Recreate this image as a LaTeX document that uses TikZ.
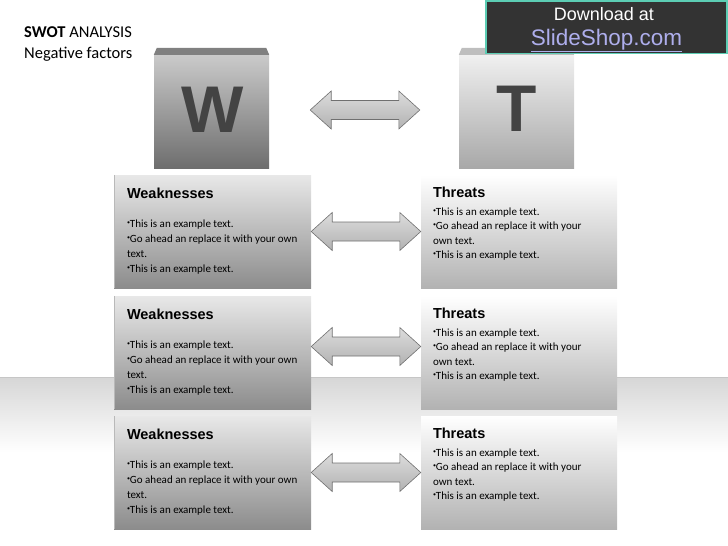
\documentclass[tikz,border=0pt]{standalone}
\usepackage{fontspec}
\setmainfont{Carlito}
\newfontfamily\arialfont{Liberation Sans}
\usetikzlibrary{calc}

\definecolor{wboxtop}{HTML}{E8E8E8}
\definecolor{wboxbot}{HTML}{8C8C8C}
\definecolor{tboxbot}{HTML}{B2B2B2}
\definecolor{wfronttop}{HTML}{CACACA}
\definecolor{wfrontbot}{HTML}{6E6E6E}
\definecolor{wlid}{HTML}{808080}
\definecolor{tfronttop}{HTML}{F0F0F0}
\definecolor{tfrontbot}{HTML}{A8A8A8}
\definecolor{tlid}{HTML}{BEBEBE}
\definecolor{letter}{HTML}{434343}
\definecolor{arrowtop}{HTML}{DCDCDC}
\definecolor{arrowbot}{HTML}{B2B2B2}
\definecolor{arrowline}{HTML}{707070}
\definecolor{bandtop}{HTML}{D6D6D6}
\definecolor{dlfill}{HTML}{333333}
\definecolor{dlline}{HTML}{5CCDB4}
\definecolor{linkblue}{HTML}{AEAEEC}

\newcommand\bul{{\fontsize{6}{6}\selectfont\raisebox{3pt}{\textbullet}}}
\newcommand\weaklines{\strut\bul This is an example text.\\\bul Go ahead an replace it with your own\\text.\\\bul This is an example text.}
\newcommand\threatlines{\strut\bul This is an example text.\\\bul Go ahead an replace it with your\\own text.\\\bul This is an example text.}
% double arrow from left tip #1 to right tip #2
\newcommand\twoway[2]{%
  \path[twoway] (#1) -- ++(21,-19) -- ++(0,9.5) -- ($(#2)+(-21,-9.5)$) -- ++(0,-9.5) -- (#2)
    -- ++(-21,19) -- ++(0,-9.5) -- ($(#1)+(21,9.5)$) -- ++(0,9.5) -- cycle;}

\begin{document}
\begin{tikzpicture}[x=1pt,y=-1pt,
  wbox/.style={minimum width=197pt,minimum height=113pt,inner sep=0,top color=wboxtop,bottom color=wboxbot},
  tbox/.style={minimum width=196pt,minimum height=113pt,inner sep=0,top color=white,bottom color=tboxbot},
  boxhead/.style={anchor=base west,inner sep=0,font=\arialfont\bfseries\fontsize{14.5}{14.5}\selectfont},
  boxbody/.style={anchor=north west,inner sep=0,align=left,font=\fontsize{11}{15}\selectfont},
  cubeletter/.style={anchor=base,inner sep=0,text=letter,font=\arialfont\bfseries\fontsize{66}{66}\selectfont},
  twoway/.style={draw=arrowline,line width=0.6pt,top color=arrowtop,bottom color=arrowbot}]
  \useasboundingbox (0,0) rectangle (728,546);

  % floor band
  \shade[top color=bandtop,bottom color=white] (0,377) rectangle (728,452);
  \draw[line width=0.8pt,gray!45] (0,377) -- (728,377);

  % heading
  \node[anchor=base west,inner sep=0,font=\fontsize{16.5}{16.5}\selectfont] (title) at (24,37) {\textbf{SWOT} ANALYSIS};
  \node[anchor=base west,inner sep=0,font=\fontsize{16.5}{16.5}\selectfont] (subtitle) at (24,58) {Negative factors};

  % cubes
  \node[minimum width=115pt,minimum height=113pt,inner sep=0,top color=wfronttop,bottom color=wfrontbot] (wcube) at (211.5,111.5) {};
  \fill[wlid] (wcube.north west) -- ++(3,-7) -- ($(wcube.north east)+(-3,-7)$) -- (wcube.north east) -- cycle;
  \node[cubeletter] (wletter) at (212.5,132) {W};
  \node[minimum width=115pt,minimum height=113pt,inner sep=0,top color=tfronttop,bottom color=tfrontbot] (tcube) at (516.5,111.5) {};
  \fill[tlid] (tcube.north west) -- ++(3,-7) -- ($(tcube.north east)+(-3,-7)$) -- (tcube.north east) -- cycle;
  \node[cubeletter] (tletter) at (517,131) {T};
  \coordinate (a0) at ([xshift=41pt,yshift=1.5pt]wcube.east);
  \coordinate (b0) at ([xshift=-39pt,yshift=1.5pt]tcube.west);
  \twoway{a0}{b0}

  % rows
  \foreach \row/\ytop/\dy in {1/175/0,2/296/6,3/416/0}
  {
    \node[wbox] (w\row) at (212.5,\ytop+56.5) {};
    \draw[gray!55,line width=0.6pt] (w\row.north west) -- (w\row.south west);
    \node[tbox] (t\row) at (519,\ytop+56.5) {};
    \node[boxhead] (wh\row) at ([xshift=13pt,yshift=-24pt]w\row.north west) {Weaknesses};
    \node[boxbody] (wb\row) at ([xshift=13pt,yshift=-41.5pt]w\row.north west) {\weaklines};
    \node[boxhead] (th\row) at ([xshift=12pt,yshift=-23pt]t\row.north west) {Threats};
    \node[boxbody,font=\fontsize{11}{14.5}\selectfont] (tb\row) at ([xshift=12pt,yshift=-29.85pt]t\row.north west) {\threatlines};
    \coordinate (a\row) at ([yshift=\dy pt]w\row.east);
    \coordinate (b\row) at ([yshift=\dy pt]t\row.west);
    \twoway{a\row}{b\row}
  }

  % download banner
  \node[draw=dlline,line width=1.5pt,fill=dlfill,minimum width=241pt,minimum height=52pt,anchor=north east,inner sep=0] (dl) at (727.5,0.5) {};
  \node[anchor=base,inner sep=0,text=white,font=\arialfont\fontsize{18}{18}\selectfont] (dltext) at (604,20) {Download at};
  \node[anchor=base,inner sep=0,text=linkblue,font=\arialfont\fontsize{22.5}{22.5}\selectfont] (dllink) at (606.5,45) {\underline{SlideShop.com}};
\end{tikzpicture}
\end{document}
